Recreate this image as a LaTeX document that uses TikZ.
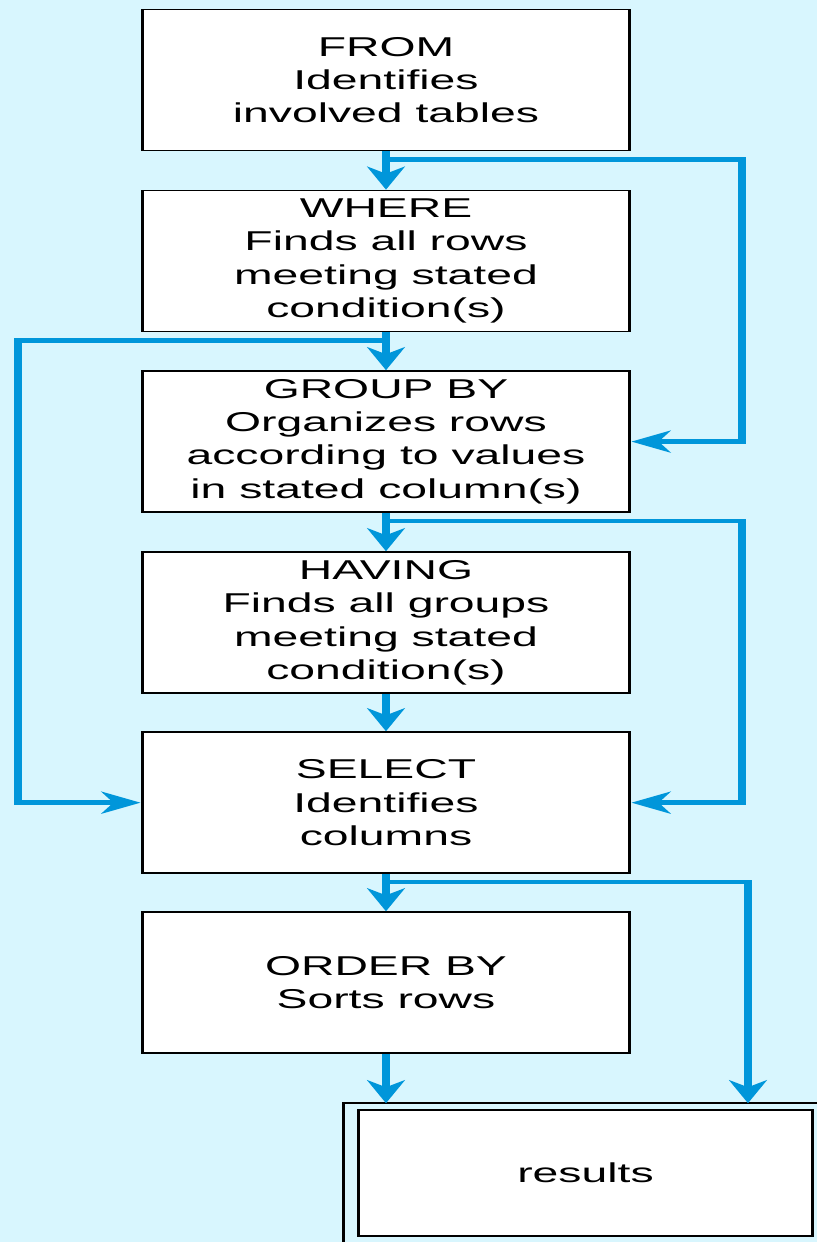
\documentclass[tikz,border=0pt]{standalone}
\usepackage{fontspec,
			tikz
			}
\setmainfont{Liberation Sans}
\usetikzlibrary{arrows.meta}

\definecolor{paper}{RGB}{216,246,254}
\definecolor{sqlblue}{RGB}{0,150,218}

\tikzset{
	stage/.style={draw=black, line width=1pt, fill=white, inner sep=0pt,
		minimum width=5.74cm, minimum height=2.82cm, align=center,
		font=\fontsize{15.5}{19}\selectfont},
	flow/.style={draw=sqlblue, line width=2.6pt,
		-{Stealth[length=0.46cm, width=0.44cm, inset=0.14cm]}}
}

\begin{document}
\begin{tikzpicture}
	\useasboundingbox (0,0) rectangle (16.34,-24.84);
	\fill[paper] (0,0) rectangle (16.34,-24.84);
	\clip (0,0) rectangle (16.34,-24.84);
	% everything below is drawn in pixels and stretched sideways
	\begin{scope}[transform canvas={xscale=1.7}, x=0.011765cm, y=-0.02cm]
	\foreach \n/\y/\t in {from/80/{FROM\\Identifies\\involved tables},
			where/261/{WHERE\\Finds all rows\\meeting stated\\condition(s)},
			groupby/441.5/{GROUP BY\\Organizes rows\\according to values\\in stated column(s)},
			having/622.5/{HAVING\\Finds all groups\\meeting stated\\condition(s)},
			select/802.5/{SELECT\\Identifies\\columns},
			orderby/982.5/{ORDER BY\\Sorts rows}}
		\node[stage] (\n) at (386,\y) {\t};
	\node[stage, minimum width=5.35cm, minimum height=2.52cm,
		outer xsep=0.176cm, outer ysep=0.14cm] (results) at (585.5,1173) {results};
	\draw[line width=1pt] (results.north west) rectangle ++(600,300);

	\coordinate (lx) at (18,0);
	\coordinate (rx) at (742,0);
	\coordinate (rx2) at (748,0);
	\foreach \a/\i in {from/1,where/2,groupby/3,select/4}
		\coordinate (b\i) at ([yshift=-0.16cm]\a.south);

	\foreach \a/\b in {from/where,where/groupby,groupby/having,having/select,select/orderby}
		\draw[flow] (\a) -- (\b);
	\draw[flow] (orderby) -- (orderby.south |- results.north);

	\draw[flow] (b1) -- (b1 -| rx) -- (groupby.east -| rx) -- (groupby.east);
	\draw[flow] (b2) -- (b2 -| lx) -- (select.west -| lx) -- (select.west);
	\draw[flow] (b3) -- (b3 -| rx) -- (select.east -| rx) -- (select.east);
	\draw[flow] (b4) -- (b4 -| rx2) -- (rx2 |- results.north);
	\end{scope}
\end{tikzpicture}
\end{document}
